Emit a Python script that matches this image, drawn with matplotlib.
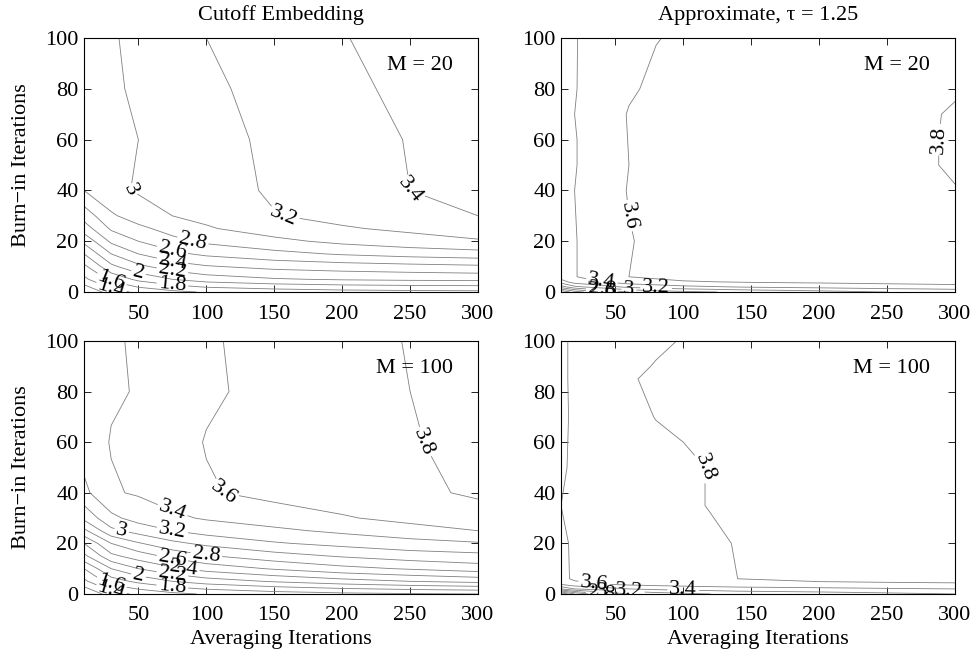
import matplotlib
matplotlib.use('Agg')
import matplotlib.pyplot as plt
import numpy as np

plt.rcParams['font.family'] = ['Liberation Serif', 'DejaVu Serif']
plt.rcParams['mathtext.fontset'] = 'stix'

# contour levels used in every panel
levels = [1.2, 1.4, 1.6, 1.8, 2.0, 2.2, 2.4, 2.6, 2.8, 3.0, 3.2, 3.4, 3.6, 3.8]

# Cutoff embedding: averaging iterations (x) and burn-in iterations (y)
cut_x = [10, 30, 50, 75, 100, 150, 200, 250, 300]
cut_y = [0, 5, 10, 15, 20, 25, 30, 40, 60, 80, 100]

# M = 20, rows follow cut_y, columns follow cut_x
cut_m20 = [
    [1.00, 1.30, 1.45, 1.55, 1.62, 1.68, 1.72, 1.74, 1.75],
    [1.35, 1.65, 1.85, 2.00, 2.10, 2.18, 2.22, 2.24, 2.25],
    [1.55, 1.95, 2.15, 2.30, 2.38, 2.46, 2.50, 2.53, 2.56],
    [1.80, 2.20, 2.40, 2.55, 2.64, 2.74, 2.82, 2.88, 2.92],
    [2.05, 2.44, 2.60, 2.74, 2.84, 2.95, 3.05, 3.12, 3.18],
    [2.30, 2.63, 2.75, 2.88, 2.98, 3.10, 3.18, 3.24, 3.30],
    [2.48, 2.77, 2.90, 3.00, 3.05, 3.19, 3.26, 3.32, 3.40],
    [2.80, 2.95, 3.02, 3.05, 3.10, 3.23, 3.30, 3.40, 3.44],
    [2.88, 2.96, 3.00, 3.07, 3.13, 3.24, 3.32, 3.41, 3.48],
    [2.90, 2.97, 3.03, 3.10, 3.16, 3.27, 3.36, 3.44, 3.52],
    [2.90, 2.98, 3.05, 3.12, 3.20, 3.29, 3.39, 3.48, 3.55],
]

# M = 100
cut_m100 = [
    [1.00, 1.30, 1.45, 1.55, 1.62, 1.70, 1.75, 1.78, 1.80],
    [1.35, 1.70, 1.85, 2.00, 2.10, 2.22, 2.32, 2.40, 2.46],
    [1.60, 2.00, 2.20, 2.36, 2.48, 2.62, 2.74, 2.82, 2.90],
    [1.95, 2.35, 2.50, 2.66, 2.78, 2.92, 3.02, 3.10, 3.14],
    [2.20, 2.60, 2.78, 2.95, 3.05, 3.18, 3.26, 3.33, 3.38],
    [2.55, 2.95, 3.08, 3.20, 3.28, 3.36, 3.44, 3.52, 3.60],
    [2.85, 3.15, 3.28, 3.36, 3.42, 3.50, 3.58, 3.66, 3.74],
    [3.15, 3.38, 3.42, 3.50, 3.58, 3.66, 3.72, 3.77, 3.82],
    [3.30, 3.41, 3.44, 3.52, 3.61, 3.68, 3.74, 3.79, 3.84],
    [3.30, 3.38, 3.41, 3.49, 3.57, 3.66, 3.73, 3.80, 3.85],
    [3.30, 3.38, 3.42, 3.50, 3.58, 3.66, 3.73, 3.81, 3.86],
]

# Approximate, tau = 1.25, M = 20
apx20_x = [10, 20, 40, 60, 80, 100, 150, 200, 250, 280, 300]
apx20_y = [0, 2, 4, 6, 20, 40, 50, 60, 70, 80, 100]
apx_m20 = [
    [2.00, 2.30, 2.60, 2.80, 2.90, 2.95, 3.05, 3.12, 3.20, 3.22, 3.25],
    [2.70, 2.95, 3.10, 3.25, 3.30, 3.35, 3.42, 3.46, 3.50, 3.52, 3.53],
    [3.10, 3.30, 3.40, 3.50, 3.54, 3.58, 3.62, 3.64, 3.66, 3.67, 3.68],
    [3.30, 3.39, 3.50, 3.60, 3.64, 3.68, 3.72, 3.74, 3.76, 3.77, 3.78],
    [3.30, 3.39, 3.50, 3.59, 3.64, 3.68, 3.72, 3.74, 3.76, 3.77, 3.78],
    [3.31, 3.40, 3.51, 3.61, 3.65, 3.68, 3.72, 3.74, 3.76, 3.77, 3.79],
    [3.30, 3.39, 3.50, 3.60, 3.65, 3.69, 3.72, 3.75, 3.77, 3.78, 3.83],
    [3.30, 3.39, 3.50, 3.605, 3.65, 3.69, 3.72, 3.75, 3.77, 3.78, 3.83],
    [3.31, 3.40, 3.51, 3.61, 3.65, 3.69, 3.72, 3.75, 3.77, 3.78, 3.82],
    [3.30, 3.39, 3.50, 3.58, 3.63, 3.68, 3.72, 3.74, 3.76, 3.77, 3.78],
    [3.29, 3.39, 3.48, 3.56, 3.595, 3.62, 3.70, 3.73, 3.75, 3.76, 3.77],
]

# Approximate, tau = 1.25, M = 100
apx100_x = [10, 20, 40, 60, 80, 100, 120, 140, 200, 250, 300]
apx100_y = [0, 2, 4, 6, 20, 35, 50, 60, 70, 85, 90, 100]
apx_m100 = [
    [2.00, 2.40, 2.80, 3.00, 3.10, 3.15, 3.20, 3.25, 3.30, 3.35, 3.40],
    [3.00, 3.20, 3.30, 3.40, 3.45, 3.48, 3.50, 3.52, 3.55, 3.58, 3.60],
    [3.45, 3.55, 3.62, 3.66, 3.68, 3.70, 3.72, 3.74, 3.76, 3.77, 3.78],
    [3.55, 3.63, 3.70, 3.74, 3.76, 3.77, 3.78, 3.80, 3.85, 3.87, 3.88],
    [3.55, 3.64, 3.70, 3.73, 3.75, 3.76, 3.78, 3.806, 3.85, 3.87, 3.88],
    [3.60, 3.65, 3.71, 3.74, 3.76, 3.78, 3.805, 3.82, 3.86, 3.87, 3.88],
    [3.56, 3.65, 3.71, 3.74, 3.76, 3.78, 3.805, 3.82, 3.86, 3.88, 3.89],
    [3.55, 3.65, 3.72, 3.75, 3.77, 3.80, 3.82, 3.83, 3.86, 3.88, 3.89],
    [3.55, 3.64, 3.71, 3.75, 3.805, 3.82, 3.83, 3.84, 3.86, 3.88, 3.89],
    [3.56, 3.64, 3.72, 3.795, 3.81, 3.83, 3.84, 3.85, 3.86, 3.87, 3.88],
    [3.56, 3.64, 3.70, 3.76, 3.81, 3.83, 3.84, 3.85, 3.86, 3.87, 3.88],
    [3.55, 3.65, 3.70, 3.74, 3.77, 3.81, 3.83, 3.84, 3.86, 3.87, 3.88],
]

x_ticks = [50, 100, 150, 200, 250, 300]
y_ticks = [0, 20, 40, 60, 80, 100]
titles = ['Cutoff Embedding', 'Approximate, \u03c4 = 1.25']
m_labels = ['M = 20', 'M = 100']

fs = 16
fig = plt.figure(figsize=(9.76, 6.58), dpi=100)
pos = [
    [0.0861, 0.5562, 0.4037, 0.3860],
    [0.5748, 0.5562, 0.4037, 0.3860],
    [0.0861, 0.0973, 0.4037, 0.3845],
    [0.5748, 0.0973, 0.4037, 0.3845],
]
panels = [
    (cut_x, cut_y, cut_m20),
    (apx20_x, apx20_y, apx_m20),
    (cut_x, cut_y, cut_m100),
    (apx100_x, apx100_y, apx_m100),
]

for i, (px, py, pz) in enumerate(panels):
    ax = fig.add_axes(pos[i])
    X, Y = np.meshgrid(px, py)
    cs = ax.contour(X, Y, np.array(pz), levels=levels,
                    colors=[(0.5, 0.5, 0.5)], linewidths=0.6)
    ax.clabel(cs, fmt='%g', fontsize=fs, colors='k', inline=True,
              inline_spacing=2)
    ax.set_xlim(10, 300)
    ax.set_ylim(0, 100)
    ax.set_xticks(x_ticks)
    ax.set_yticks(y_ticks)
    ax.tick_params(direction='in', top=True, right=True, labelsize=fs,
                   length=5, width=0.6)
    ax.tick_params(axis='x', pad=9)
    ax.tick_params(axis='y', pad=4)
    for s in ax.spines.values():
        s.set_linewidth(0.8)
    ax.text(0.937, 0.89, m_labels[i // 2], transform=ax.transAxes,
            ha='right', va='center', fontsize=fs)
    if i < 2:
        ax.set_title(titles[i], fontsize=fs, pad=13)
    else:
        ax.set_xlabel('Averaging Iterations', fontsize=fs, labelpad=3)
    if i % 2 == 0:
        ax.set_ylabel('Burn\u2212in Iterations', fontsize=fs, labelpad=10)

fig.savefig('out.png', dpi=100)
